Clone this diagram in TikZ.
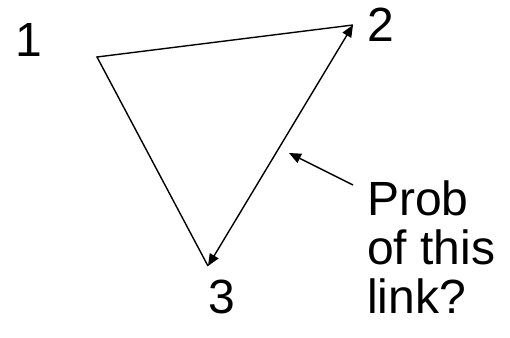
\documentclass[tikz,border=0pt]{standalone}
\usepackage{fontspec}
\setmainfont{Liberation Sans}
\usetikzlibrary{arrows.meta}
\begin{document}
\begin{tikzpicture}[x=1pt,y=-1pt,
  edge/.style={line width=1.4pt},
  tip/.style={-{Triangle[length=12pt,width=10pt]}},
  lbl/.style={font=\fontsize{48pt}{49pt}\selectfont, inner sep=0pt, anchor=base west, align=left}]
\useasboundingbox (0,0) rectangle (510,337);
\coordinate (v1) at (97,57);
\coordinate (v2) at (353,25);
\coordinate (v3) at (208,266);
\coordinate (ptail) at (353,185);
\coordinate (phead) at (289,153);
\node[lbl] (n1) at (15.8,56.7) {1};
\node[lbl] (n2) at (367.6,41.5) {2};
\node[lbl] (n3) at (208,313) {3};
\node[lbl] (q) at (367,313.5) {Prob\\of this\\link?};
\draw[edge] (v2) -- (v1) -- (v3);
\draw[edge,{Triangle[length=12pt,width=10pt]}-{Triangle[length=12pt,width=10pt]}] (v3) -- (v2);
\draw[edge,tip] (ptail) -- (phead);
\end{tikzpicture}
\end{document}
